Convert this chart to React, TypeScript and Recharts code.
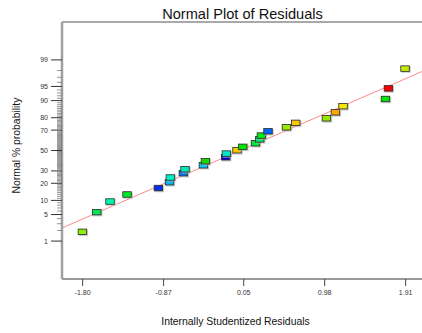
import React from "react";
import { ScatterChart, Scatter, XAxis, YAxis, ReferenceLine } from "recharts";

// residuals (x) and their normal % probability, in rank order
const RESIDUALS = [
  -1.8, -1.635, -1.483, -1.287, -0.927, -0.8, -0.789, -0.64, -0.621, -0.41,
  -0.387, -0.154, -0.146, -0.024, 0.042, 0.188, 0.237, 0.256, 0.332, 0.544,
  0.65, 1.003, 1.106, 1.194, 1.681, 1.715, 1.906,
];
const PROBS = [
  1.81, 5.6, 9.4, 12.8, 16.6, 20.6, 24.2, 27.8, 31.3, 35.0, 38.9, 42.9, 46.6,
  50.0, 53.5, 57.1, 61.0, 64.7, 68.7, 72.2, 75.9, 79.4, 83.5, 87.1, 90.6, 94.4,
  98.2,
];
// point colours (run colouring in the original)
const COLORS = [
  "#88f000", "#00e855", "#00f8a8", "#00e828", "#0030e8", "#00b4f8", "#00f0c8",
  "#0074f8", "#00e8b8", "#00c8f8", "#18d800", "#0000d8", "#00e8c8", "#f8c800",
  "#00e800", "#00e838", "#00e860", "#00e818", "#0064f8", "#98e800", "#f8c800",
  "#98e800", "#f8a800", "#f8e800", "#00e800", "#f80000", "#c8e800",
];

// fitted reference line, two ends
const LINE_X = [-2.037, 2.098];
const LINE_P = [2.33, 97.87];

const X_TICKS = [-1.8, -0.87, 0.05, 0.98, 1.91];
const P_MAJOR = [1, 5, 10, 20, 30, 50, 70, 80, 90, 95, 99];
const P_TICKS = Array.from({ length: 99 }, (_, i) => i + 1);

const X_DOMAIN = [-2.037, 2.098];
const Z_DOMAIN = [-3.3, 3.3];

// inverse normal cdf (Acklam) - used as the probability-axis scale
function probit(p: number) {
  const a = [-39.69683028665376, 220.9460984245205, -275.9285104469687, 138.357751867269, -30.66479806614716, 2.506628277459239];
  const b = [-54.47609879822406, 161.5858368580409, -155.6989798598866, 66.80131188771972, -13.28068155288572];
  const c = [-0.007784894002430293, -0.3223964580411365, -2.400758277161838, -2.549732539343734, 4.374664141464968, 2.938163982698783];
  const d = [0.007784695709041462, 0.3224671290700398, 2.445134137142996, 3.754408661907416];
  const pl = 0.02425;
  if (p < pl) {
    const q = Math.sqrt(-2 * Math.log(p));
    return (((((c[0] * q + c[1]) * q + c[2]) * q + c[3]) * q + c[4]) * q + c[5]) /
      ((((d[0] * q + d[1]) * q + d[2]) * q + d[3]) * q + 1);
  }
  if (p > 1 - pl) {
    const q = Math.sqrt(-2 * Math.log(1 - p));
    return -(((((c[0] * q + c[1]) * q + c[2]) * q + c[3]) * q + c[4]) * q + c[5]) /
      ((((d[0] * q + d[1]) * q + d[2]) * q + d[3]) * q + 1);
  }
  const q = p - 0.5;
  const r = q * q;
  return (((((a[0] * r + a[1]) * r + a[2]) * r + a[3]) * r + a[4]) * r + a[5]) * q /
    (((((b[0] * r + b[1]) * r + b[2]) * r + b[3]) * r + b[4]) * r + 1);
}

const points = RESIDUALS.map((x, i) => ({ x, z: probit(PROBS[i] / 100), i }));
const yTicks = P_TICKS.map((p) => probit(p / 100));

const FONT = "'Liberation Sans', Arial, sans-serif";

function ProbTick(props: any) {
  const { x, y, index } = props;
  const p = P_TICKS[index];
  const major = P_MAJOR.includes(p);
  if (!major) {
    return <line x1={x - 5} x2={x} y1={y} y2={y} stroke="#7a7a7a" strokeWidth={0.8} />;
  }
  return (
    <g>
      <line x1={x - 11} x2={x} y1={y} y2={y} stroke="#333" strokeWidth={1} />
      <text x={x - 14} y={y} dy="0.355em" textAnchor="end" fontSize={7} fill="#333" fontFamily={FONT}>
        {p}
      </text>
    </g>
  );
}

function Box(props: any) {
  const { cx, cy, payload } = props;
  return (
    <g>
      <rect x={cx - 4} y={cy - 2.5} width={9.5} height={6.5} fill="#b4b4b4" opacity={0.7} />
      <rect x={cx - 4.5} y={cy - 3} width={8.5} height={5.5} fill={COLORS[payload.i]} stroke="#2a2a2a" strokeWidth={0.8} />
    </g>
  );
}

export default function App() {
  return (
    <div style={{ position: "absolute", left: 0, top: 0, width: 422, height: 333, background: "#fff" }}>
      <ScatterChart width={422} height={333} margin={{ top: 22, right: 0, bottom: 24, left: 12 }}>
        <XAxis
          type="number"
          dataKey="x"
          domain={X_DOMAIN}
          allowDataOverflow
          ticks={X_TICKS}
          interval={0}
          height={30}
          tickSize={7}
          tickMargin={4}
          tickFormatter={(v: number) => v.toFixed(2)}
          tick={{ fontSize: 7, fill: "#333", fontFamily: FONT }}
          tickLine={{ stroke: "#444" }}
          axisLine={{ stroke: "#999", strokeWidth: 2 }}
        />
        <YAxis
          type="number"
          dataKey="z"
          domain={Z_DOMAIN}
          allowDataOverflow
          ticks={yTicks}
          interval={0}
          width={50}
          tickSize={0}
          tickMargin={0}
          tickLine={false}
          tick={ProbTick}
          axisLine={{ stroke: "#a0a0a0", strokeWidth: 2.5 }}
        />
        <ReferenceLine y={Z_DOMAIN[1]} stroke="#555" strokeWidth={1} />
        <ReferenceLine
          segment={[
            { x: LINE_X[0], y: probit(LINE_P[0] / 100) },
            { x: LINE_X[1], y: probit(LINE_P[1] / 100) },
          ]}
          stroke="#ff8a8a"
          strokeWidth={1}
          ifOverflow="visible"
        />
        <Scatter data={points} shape={Box} isAnimationActive={false} />
      </ScatterChart>
      <svg width={422} height={333} style={{ position: "absolute", left: 0, top: 0, pointerEvents: "none" }}>
        <text x={242.5} y={19} textAnchor="middle" fontSize={14.6} fill="#111" fontFamily={FONT}>
          Normal Plot of Residuals
        </text>
        <text
          x={0}
          y={0}
          transform="translate(20 145.5) rotate(-90)"
          textAnchor="middle"
          fontSize={10.4}
          fill="#111"
          fontFamily={FONT}
        >
          Normal % probability
        </text>
        <text x={235.5} y={324.5} textAnchor="middle" fontSize={10.4} fill="#111" fontFamily={FONT}>
          Internally Studentized Residuals
        </text>
      </svg>
    </div>
  );
}
